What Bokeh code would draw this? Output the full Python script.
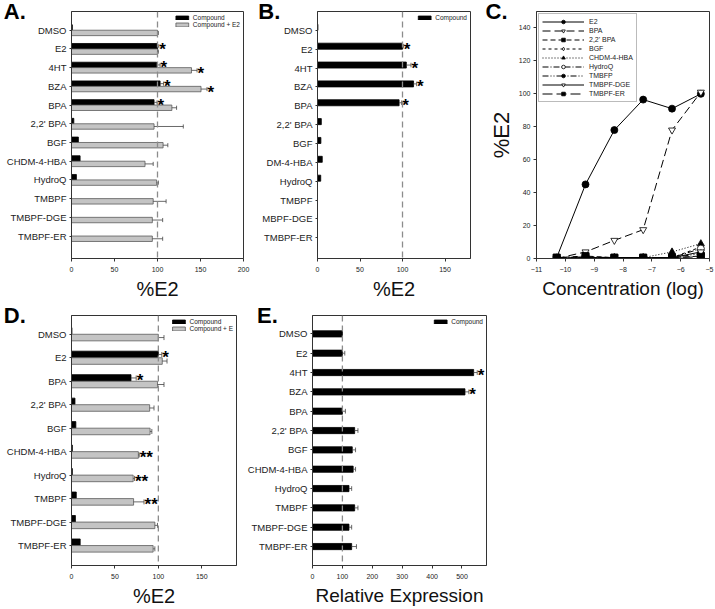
import numpy as np
from bokeh.plotting import figure
from bokeh.layouts import row, column
from bokeh.models import (Range1d, FixedTicker, Span, Legend, LegendItem, LinearAxis)
from bokeh.embed import file_html
from bokeh.resources import INLINE
from bokeh.core.properties import value

FONT = "Liberation Sans"
INK = "#333333"

# ---------------- data ----------------
# Panel A
a_cats = ["DMSO", "E2", "4HT", "BZA", "BPA", "2,2' BPA", "BGF", "CHDM-4-HBA",
          "HydroQ", "TMBPF", "TMBPF-DGE", "TMBPF-ER"]
a_cmp = [1, 100, 99, 103, 96, 2.7, 8, 10, 5.7, 0, 0, 0]
a_cmp_err = [0, 1.5, 4, 4, 3.5, 0, 0, 0, 0, 0, 0, 0]
a_cmp_star = ["", "*", "*", "*", "*", "", "", "", "", "", "", ""]
a_e2 = [100, 100, 139.5, 150.6, 116.7, 96, 106.5, 85.5, 99, 95, 94, 94]
a_e2_err = [1, 1, 6.5, 7, 5.5, 34, 5.5, 9.5, 2, 15, 12, 12]
a_e2_star = ["", "", "*", "*", "", "", "", "", "", "", "", ""]
a_xticks = [0, 50, 100, 150, 200]

# Panel B (labels as visible in the cropped panel)
b_cats = ["DMSO", "E2", "4HT", "BZA", "BPA", "2,2' BPA", "BGF", "DM-4-HBA",
          "HydroQ", "TMBPF", "MBPF-DGE", "TMBPF-ER"]
b_cmp = [0.5, 100, 104.5, 113, 96, 4.5, 4, 5.6, 3.8, 0, 0, 0]
b_cmp_err = [0, 1, 5.5, 3.6, 3, 0, 0, 0, 0, 0, 0, 0]
b_cmp_star = ["", "*", "*", "*", "*", "", "", "", "", "", "", ""]
b_xticks = [0, 50, 100, 150]

# Panel C (dose response)
c_conc = [-10.3, -9.3, -8.3, -7.3, -6.3, -5.3]
c_names = ["E2", "BPA", "2,2' BPA", "BGF", "CHDM-4-HBA", "HydroQ", "TMBFP",
           "TMBPF-DGE", "TMBPF-ER"]
c_e2 = [0.5, 45, 78, 96.5, 91, 100]
c_bpa = [0, 4, 11, 17.5, 78, 101]
c_22bpa = [0.5, 1.5, 0.5, 0.5, 0.5, 1.5]
c_bgf = [0, 0.5, 0.5, 0.5, 0.5, 7]
c_chdm = [0, 0.5, 0.5, 0.5, 4, 9]
c_hydroq = [0, 0.5, 0.5, 0.5, 0.5, 6]
c_tmbfp = [0, 0.5, 0.5, 0.5, 0.5, 3]
c_dge = [0, 0.5, 0.5, 0.5, 0.5, 4]
c_er = [0.5, 1, 0.5, 0.5, 0.5, 1]
c_xticks = [-11, -10, -9, -8, -7, -6, -5]
c_yticks = [0, 20, 40, 60, 80, 100, 120, 140]

# Panel D
d_cats = ["DMSO", "E2", "BPA", "2,2' BPA", "BGF", "CHDM-4-HBA", "HydroQ", "TMBPF",
          "TMBPF-DGE", "TMBPF-ER"]
d_cmp = [0.5, 100, 68.5, 4, 5, 1, 1, 5.5, 4.5, 10]
d_cmp_err = [0, 4, 6, 0, 0, 0, 0, 0, 0, 0]
d_cmp_star = ["", "*", "*", "", "", "", "", "", "", ""]
d_e2 = [100, 104.5, 99, 90, 90.5, 77, 71, 71.5, 96, 94]
d_e2_err = [6.5, 5.5, 7.5, 5, 2, 1, 1.5, 12, 3, 2]
d_e2_star = ["", "", "", "", "", "**", "**", "**", "", ""]
d_xticks = [0, 50, 100, 150]

# Panel E
e_cats = a_cats
e_cmp = [100, 100, 539, 510, 100, 141, 133, 136, 122, 141, 122, 131]
e_cmp_err = [0, 8, 12, 13, 10, 11, 11, 8, 9, 11, 9, 16]
e_cmp_star = ["", "", "*", "*", "", "", "", "", "", "", "", ""]
e_xticks = [0, 100, 200, 300, 400, 500]


# ---------------- helpers ----------------
def style_axis(ax):
    ax.axis_line_color = INK
    ax.major_tick_line_color = INK
    ax.minor_tick_line_color = None
    ax.major_tick_in = 0
    ax.major_tick_out = 3
    ax.major_label_text_font = FONT
    ax.major_label_text_font_size = "7px"
    ax.major_label_text_color = "#222222"
    ax.major_label_standoff = 5
    ax.axis_label_text_font = FONT
    ax.axis_label_text_font_style = "normal"
    ax.axis_label_text_color = "#111111"


def base_fig(w, h, bl, br, bt, bb, xr, yr):
    p = figure(width=w, height=h, x_range=xr, y_range=yr, output_backend="svg",
               toolbar_location=None, min_border_left=bl, min_border_right=br,
               min_border_top=bt, min_border_bottom=bb)
    p.grid.visible = False
    p.outline_line_color = INK
    p.outline_line_width = 1
    for ax in p.axis:
        style_axis(ax)
    return p


def panel_letter(ax, txt, standoff, align):
    ax.axis_label = txt
    ax.axis_label_text_font = FONT
    ax.axis_label_text_font_size = "22px"
    ax.axis_label_text_font_style = "bold"
    ax.axis_label_text_color = "black"
    ax.axis_label_standoff = standoff
    props = ax.properties()
    if "axis_label_orientation" in props:
        ax.axis_label_orientation = "horizontal"
    if "axis_label_align" in props:
        ax.axis_label_align = align


def bar_panel(cats, groups, x_end, xticks, ylo, yhi, w, h, bl, br, bt, bb, bar_h,
              xtitle, title_size, title_standoff):
    n = len(cats)
    idx = np.arange(n, dtype=float)
    p = base_fig(w, h, bl, br, bt, bb, Range1d(0, x_end), Range1d(yhi, ylo))
    p.add_layout(Span(location=100, dimension="height", line_color="#8c8c8c",
                      line_dash="6 4", line_width=1.3))
    for g in groups:
        y = idx + g["offset"]
        vals = np.array(g["vals"], float)
        errs = np.array(g["errs"], float)
        p.hbar(y=y, left=0, right=vals, height=bar_h, fill_color=g["fill"],
               line_color=g["line"], line_width=0.8, legend_label=g["label"])
        m = errs > 0
        ends = vals + errs
        p.segment(x0=vals[m], y0=y[m], x1=ends[m], y1=y[m], line_color="#444444",
                  line_width=0.8)
        p.segment(x0=ends[m], y0=y[m] - bar_h * 0.38, x1=ends[m], y1=y[m] + bar_h * 0.38,
                  line_color="#444444", line_width=0.8)
        s_idx = [i for i, s in enumerate(g["stars"]) if s]
        if s_idx:
            sx = np.maximum(ends, vals)[s_idx]
            p.text(x=sx, y=y[s_idx], text=[g["stars"][i] for i in s_idx],
                   text_font=value(FONT), text_font_size="17px", text_font_style="bold",
                   text_align="left", text_baseline="middle", x_offset=0.5, y_offset=3,
                   text_color="black")
    p.xaxis.ticker = FixedTicker(ticks=xticks)
    p.yaxis.ticker = FixedTicker(ticks=list(range(n)))
    p.yaxis.major_tick_out = 2
    p.yaxis.major_label_standoff = 3
    p.yaxis.major_label_text_font_size = "9.5px"
    p.yaxis.major_label_overrides = {i: c for i, c in enumerate(cats)}
    p.xaxis.axis_label = xtitle
    p.xaxis.axis_label_text_font_size = title_size
    p.xaxis.axis_label_standoff = title_standoff
    lg = p.legend[0]
    lg.location = "top_right"
    lg.margin = 3
    lg.padding = 2
    lg.spacing = 0
    lg.glyph_width = 16
    lg.glyph_height = 5
    lg.label_height = 6
    lg.label_width = 10
    lg.label_standoff = 3
    lg.label_text_font = FONT
    lg.label_text_font_size = "6.5px"
    lg.label_text_color = "#222222"
    lg.border_line_color = None
    lg.background_fill_alpha = 0
    return p


BLACK = dict(fill="black", line="black")
GRAY = dict(fill="#c4c4c4", line="#5a5a5a")

# ---------------- panel A ----------------
pA = bar_panel(a_cats,
               [dict(vals=a_cmp, errs=a_cmp_err, stars=a_cmp_star, label="Compound",
                     offset=-0.145, **BLACK),
                dict(vals=a_e2, errs=a_e2_err, stars=a_e2_star, label="Compound + E2",
                     offset=0.145, **GRAY)],
               200, a_xticks, -1.0, 12.2, 255, 302, 68, 12, 11, 42, 0.29,
               "%E2", "20px", 3)
panel_letter(pA.yaxis[0], "A.", -22, "start")

# ---------------- panel B ----------------
pB = bar_panel(b_cats,
               [dict(vals=b_cmp, errs=b_cmp_err, stars=b_cmp_star, label="Compound",
                     offset=-0.16, **BLACK)],
               180, b_xticks, -1.0, 12.1, 226, 302, 56, 11, 11, 42, 0.32,
               "%E2", "20px", 3)
panel_letter(pB.yaxis[0], "B.", -21, "start")

# ---------------- panel C ----------------
pC = base_fig(234, 302, 55, 6, 9, 42, Range1d(-11, -5), Range1d(0, 150))
pC.xaxis.ticker = FixedTicker(ticks=c_xticks)
pC.yaxis.ticker = FixedTicker(ticks=c_yticks)
pC.yaxis.major_label_standoff = 3
pC.xaxis.axis_label = "Concentration (log)"
pC.xaxis.axis_label_text_font_size = "19px"
pC.xaxis.axis_label_standoff = 3
pC.yaxis.axis_label = "%E2"
pC.yaxis.axis_label_text_font_size = "22px"
pC.yaxis.axis_label_standoff = 2
c_series = [c_e2, c_bpa, c_22bpa, c_bgf, c_chdm, c_hydroq, c_tmbfp, c_dge, c_er]
c_dash = ["solid", "8 4", "5 3", "3 3", "1 2", "6 2 1 2", "6 2 1 2 1 2", "solid", "10 4"]
c_marker = ["circle", "inverted_triangle", "square", "diamond", "triangle", "circle",
            "circle", "inverted_triangle", "square"]
c_fill = ["black", "white", "black", "white", "black", "white", "black", "white", "black"]
items = []
for name, vals, dash, mk, fill in zip(c_names, c_series, c_dash, c_marker, c_fill):
    lr = pC.line(c_conc, vals, line_color="black", line_width=1, line_dash=dash)
    sr = pC.scatter(c_conc, vals, marker=mk, size=7, fill_color=fill, line_color="black",
                    line_width=0.8)
    items.append(LegendItem(label=name, renderers=[lr, sr]))
legC = Legend(items=items, location="top_left", margin=2, padding=3, spacing=0,
              glyph_width=42, glyph_height=9, label_height=6, label_width=10,
              label_standoff=5, label_text_font=FONT, label_text_font_size="7px",
              label_text_color="#222222", border_line_color="#777777",
              border_line_width=1, background_fill_color="white")
pC.add_layout(legC)
c_letter_ax = LinearAxis(ticker=FixedTicker(ticks=[]), axis_line_color=None,
                         major_tick_out=0, major_tick_in=0, major_label_text_font_size="1px")
panel_letter(c_letter_ax, "C.", -22, "end")
pC.add_layout(c_letter_ax, "left")

# ---------------- panel D ----------------
pD = bar_panel(d_cats,
               [dict(vals=d_cmp, errs=d_cmp_err, stars=d_cmp_star, label="Compound",
                     offset=-0.14, **BLACK),
                dict(vals=d_e2, errs=d_e2_err, stars=d_e2_star, label="Compound + E",
                     offset=0.14, **GRAY)],
               190, d_xticks, -0.8, 9.85, 240, 307, 68, 4, 13, 43, 0.28,
               "%E2", "20px", 3)
panel_letter(pD.yaxis[0], "D.", -22, "start")

# ---------------- panel E ----------------
pE = bar_panel(e_cats,
               [dict(vals=e_cmp, errs=e_cmp_err, stars=e_cmp_star, label="Compound",
                     offset=0.0, **BLACK)],
               582, e_xticks, -0.95, 11.98, 260, 307, 72, 14, 13, 43, 0.32,
               "Relative Expression", "19px", 3)
panel_letter(pE.yaxis[0], "E.", -33, "start")

layout = column(row(pA, pB, pC), row(pD, pE))
open("out.html", "w").write(file_html(layout, INLINE))
